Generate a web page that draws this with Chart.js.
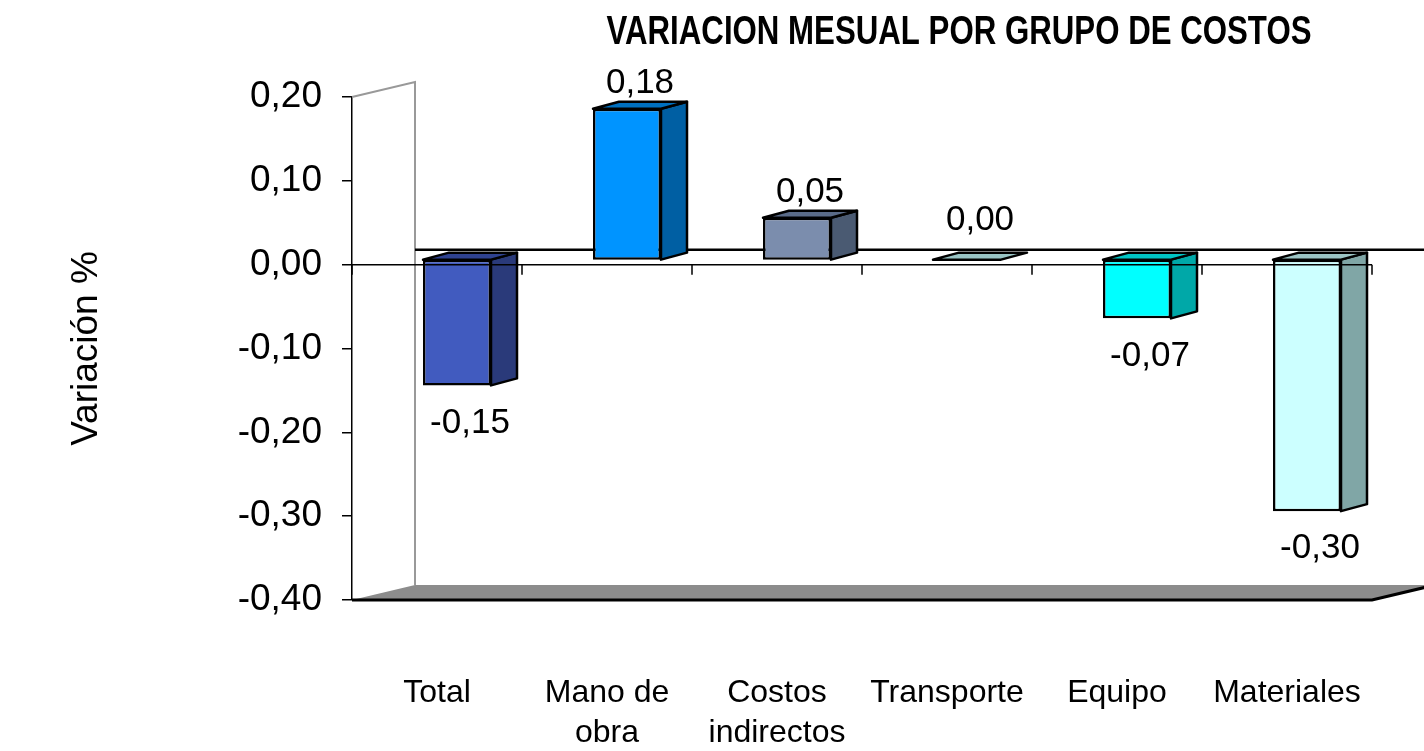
<!DOCTYPE html>
<html>
<head>
<meta charset="utf-8">
<script src="https://cdn.jsdelivr.net/npm/chart.js@4.4.0/dist/chart.umd.min.js"></script>
<style>
  body { margin: 0; background: #fff; overflow: hidden; }
  #contenedor { width: 1424px; height: 751px; position: relative; }
</style>
</head>
<body>
<div id="contenedor"><canvas id="costosChart"></canvas></div>
<script>
// Datos: variacion mensual por grupo de costos
const categorias = ['Total', ['Mano de', 'obra'], ['Costos', 'indirectos'], 'Transporte', 'Equipo', 'Materiales'];
const variaciones = [-0.15, 0.18, 0.05, 0.00, -0.07, -0.30];
const coloresFrente = ['#415BBF', '#0094FF', '#7B8DAD', '#A8CCCC', '#00FFFF', '#CCFFFF'];
const coloresLado = ['#2A3A7A', '#005FA3', '#4A5A72', '#7FA3A3', '#00A8A8', '#80A6A6'];
const coloresTope = ['#2F4290', '#0070C0', '#5A6B88', '#99C4C4', '#00C4C4', '#9CC4C4'];

const familia = '"Liberation Sans", Arial, sans-serif';
const coma = v => v.toFixed(2).replace('.', ',');

// desplazamientos de la perspectiva
const frente = { dx: 20, dy: -5 };
const fondo = { dx: 26, dy: -7 };
const pared = { dx: 63, dy: -15 };

function poligono(ctx, puntos, relleno, borde, grosor) {
    ctx.beginPath();
    ctx.moveTo(puntos[0][0], puntos[0][1]);
    for (let i = 1; i < puntos.length; i++) ctx.lineTo(puntos[i][0], puntos[i][1]);
    ctx.closePath();
    if (relleno) { ctx.fillStyle = relleno; ctx.fill(); }
    if (borde) { ctx.strokeStyle = borde; ctx.lineWidth = grosor; ctx.stroke(); }
}

const efecto3d = {
    id: 'efecto3d',
    beforeDatasetsDraw(chart) {
        const { ctx, chartArea: a, scales: { y } } = chart;
        const cero = y.getPixelForValue(0);
        ctx.save();
        // pared lateral
        ctx.strokeStyle = '#999';
        ctx.lineWidth = 2;
        ctx.beginPath();
        ctx.moveTo(a.left, a.top);
        ctx.lineTo(a.left + pared.dx, a.top + pared.dy);
        ctx.lineTo(a.left + pared.dx, a.bottom + pared.dy);
        ctx.stroke();
        // piso
        poligono(ctx, [[a.left, a.bottom], [a.right, a.bottom], [a.right + pared.dx, a.bottom + pared.dy], [a.left + pared.dx, a.bottom + pared.dy]], '#8C8C8C');
        ctx.strokeStyle = '#000';
        ctx.lineWidth = 3;
        ctx.beginPath();
        ctx.moveTo(a.left, a.bottom);
        ctx.lineTo(a.right, a.bottom);
        ctx.lineTo(a.right + pared.dx, a.bottom + pared.dy);
        ctx.stroke();
        // linea de cero al fondo
        ctx.lineWidth = 2.5;
        ctx.beginPath();
        ctx.moveTo(a.left + pared.dx, cero + pared.dy);
        ctx.lineTo(chart.width, cero + pared.dy);
        ctx.stroke();
        ctx.restore();
        ctx.save();
        ctx.translate(frente.dx, frente.dy);
    },
    afterDatasetsDraw(chart) {
        const { ctx, chartArea: a, scales: { y } } = chart;
        ctx.restore();
        const cero = y.getPixelForValue(0);
        const meta = chart.getDatasetMeta(0);
        ctx.save();
        ctx.lineJoin = 'round';
        meta.data.forEach((barra, i) => {
            const izq = barra.x - barra.width / 2 + frente.dx;
            const der = izq + barra.width;
            const arriba = Math.min(barra.y, barra.base) + frente.dy;
            const abajo = Math.max(barra.y, barra.base) + frente.dy;
            // cara lateral
            if (abajo > arriba) {
                poligono(ctx, [[der, arriba], [der + fondo.dx, arriba + fondo.dy], [der + fondo.dx, abajo + fondo.dy], [der, abajo]], coloresLado[i], '#000', 2.5);
            }
            // cara superior
            poligono(ctx, [[izq, arriba], [izq + fondo.dx, arriba + fondo.dy], [der + fondo.dx, arriba + fondo.dy], [der, arriba]], coloresTope[i], '#000', 2.5);
        });
        // eje de categorias en cero con marcas
        ctx.strokeStyle = '#000';
        ctx.lineWidth = 1.5;
        ctx.beginPath();
        ctx.moveTo(a.left, cero);
        ctx.lineTo(a.right, cero);
        const paso = (a.right - a.left) / categorias.length;
        for (let i = 0; i <= categorias.length; i++) {
            const px = a.left + i * paso;
            ctx.moveTo(px, cero);
            ctx.lineTo(px, cero + 10);
        }
        ctx.stroke();
        // etiquetas de valor
        ctx.fillStyle = '#000';
        ctx.font = '35px ' + familia;
        ctx.textAlign = 'center';
        meta.data.forEach((barra, i) => {
            const v = variaciones[i];
            const cx = barra.x + frente.dx + fondo.dx / 2;
            if (v > 0) {
                ctx.textBaseline = 'alphabetic';
                ctx.fillText(coma(v), cx, barra.y + frente.dy - 16);
            } else if (v === 0) {
                ctx.textBaseline = 'alphabetic';
                ctx.fillText(coma(v), cx, barra.y + frente.dy - 30);
            } else {
                ctx.textBaseline = 'top';
                ctx.fillText(coma(v), cx, barra.y + frente.dy + 20);
            }
        });
        ctx.restore();
    },
    afterDraw(chart) {
        // titulo comprimido horizontalmente como en el original
        const { ctx } = chart;
        const texto = 'VARIACION MESUAL POR GRUPO DE COSTOS';
        ctx.save();
        ctx.fillStyle = '#000';
        ctx.font = 'bold 40px ' + familia;
        const escala = 705 / ctx.measureText(texto).width;
        ctx.translate(959, 44);
        ctx.scale(escala, 1);
        ctx.textAlign = 'center';
        ctx.textBaseline = 'alphabetic';
        ctx.fillText(texto, 0, 0);
        ctx.restore();
    }
};

const ctxCostos = document.getElementById('costosChart').getContext('2d');
const costosChart = new Chart(ctxCostos, {
    type: 'bar',
    data: {
        labels: categorias,
        datasets: [{
            label: 'Variación %',
            data: variaciones,
            backgroundColor: coloresFrente,
            borderColor: '#000',
            borderWidth: 2.5,
            borderSkipped: false,
            categoryPercentage: 1,
            barPercentage: 0.4,
            clip: false
        }]
    },
    options: {
        responsive: true,
        maintainAspectRatio: false,
        animation: false,
        layout: { padding: { left: 0, right: 52, top: 97, bottom: 0 } },
        plugins: {
            legend: { display: false },
            tooltip: { enabled: false }
        },
        scales: {
            x: {
                grid: { display: false, drawTicks: false },
                border: { display: false },
                ticks: {
                    color: '#000',
                    padding: 73,
                    maxRotation: 0,
                    autoSkip: false,
                    font: { family: familia, size: 32, lineHeight: 1.25 }
                },
                afterFit(scale) {
                    scale.height = 151;
                    scale.paddingLeft = 0;
                    scale.paddingRight = 0;
                }
            },
            y: {
                min: -0.4,
                max: 0.2,
                grid: { drawOnChartArea: false, color: '#000', tickLength: 10, lineWidth: 1.5 },
                border: { display: true, color: '#000', width: 1.5 },
                ticks: {
                    stepSize: 0.1,
                    color: '#000',
                    padding: 20,
                    font: { family: familia, size: 37 },
                    callback: v => coma(v)
                },
                title: {
                    display: true,
                    text: 'Variación %',
                    color: '#000',
                    font: { family: familia, size: 37 },
                    padding: { top: 65 }
                },
                afterFit(scale) { scale.width = 352; }
            }
        }
    },
    plugins: [efecto3d]
});
</script>
</body>
</html>
